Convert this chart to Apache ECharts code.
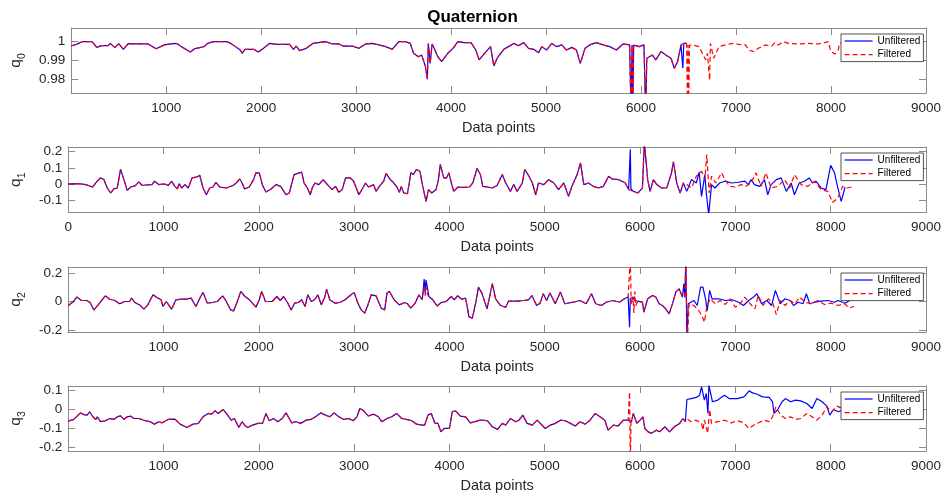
<!DOCTYPE html>
<html>
<head>
<meta charset="utf-8">
<title>Quaternion</title>
<script src="https://cdn.jsdelivr.net/npm/echarts@6/dist/echarts.min.js"></script>
<style>
  html, body { margin: 0; padding: 0; background: #fff; }
  #chart { width: 945px; height: 496px; }
</style>
</head>
<body>
<div id="chart"></div>
<script>
// ---- Data: [sample index, component value] ----

// q0
const q0Common = [
  [0,0.9975],[60,0.9985],[115,0.9998],[220,0.9998],[270,0.9968],[320,0.9977],[390,0.9977],[410,0.9989],
  [460,0.9967],[500,0.9988],[550,0.9958],[600,0.9988],[700,0.9986],[810,0.9986],[845,0.9975],[895,0.9961],
  [980,0.9981],[1090,0.9989],[1120,0.9986],[1160,0.9972],[1255,0.9944],[1300,0.9961],[1400,0.9972],[1435,0.9989],
  [1500,0.9998],[1640,0.9998],[1680,0.9989],[1730,0.9972],[1780,0.9954],[1800,0.9937],[1830,0.9958],[1920,0.9958],
  [1970,0.9944],[2025,0.9963],[2090,0.9989],[2160,0.9984],[2300,0.9984],[2340,0.9958],[2370,0.9975],[2405,0.9951],
  [2475,0.9963],[2545,0.9989],[2680,0.9998],[2750,0.9986],[2820,0.9986],[2860,0.9975],[2960,0.9975],[3030,0.9963],
  [3100,0.9986],[3170,0.9989],[3240,0.9981],[3310,0.9972],[3380,0.9958],[3450,0.9998],[3520,0.9998],[3570,0.9989],
  [3605,0.9937],[3655,0.9919],[3690,0.9928],[3730,0.9867],[3750,0.9800],[3760,0.9989],[3780,0.9884],[3800,0.9986],
  [3830,0.9954],[3860,0.9919],[3900,0.9893],[3965,0.9937],[4020,0.9963],[4070,0.9998],[4140,0.9993],[4210,0.9993],
  [4260,0.9954],[4295,0.9902],[4345,0.9933],[4415,0.9972],[4450,0.9870],[4485,0.9911],[4555,0.9958],[4605,0.9972],
  [4660,0.9989],[4710,0.9977],[4765,0.9993],[4815,0.9963],[4870,0.9958],[4920,0.9940],[4955,0.9972],[5005,0.9954],
  [5060,0.9989],[5110,0.9972],[5165,0.9981],[5215,0.9954],[5270,0.9968],[5320,0.9954],[5360,0.9884],[5410,0.9963],
  [5460,0.9981],[5530,0.9993],[5600,0.9981],[5670,0.9972],[5740,0.9954],[5810,0.9986],[5880,0.9981],[5895,0.96],
  [5905,0.998],[5912,0.96],[5922,0.998],[5930,0.9981],[5980,0.9972],[6030,0.9981],[6040,0.998],[6050,0.96],
  [6060,0.9911],[6120,0.9928],[6155,0.9902],[6210,0.9946],[6260,0.9928],[6315,0.9911],[6350,0.9858],[6385,0.9893],
  [6420,0.9981]
];
const q0UnfilteredTail = [[6440,0.9858],[6450,0.9989],[6475,0.999]];
const q0FilteredTail = [
  [6450,0.9989],[6480,0.999],[6490,0.96],[6495,0.998],[6500,0.96],[6510,0.998],[6540,0.9981],[6610,0.9972],
  [6645,0.9937],[6680,0.9902],[6700,0.9937],[6712,0.9849],[6722,0.9796],[6730,0.9989],[6765,0.9911],[6820,0.9972],
  [6890,0.9981],[6960,0.9989],[7030,0.9984],[7100,0.9981],[7135,0.9954],[7185,0.9946],[7235,0.9963],[7305,0.9981],
  [7375,0.9975],[7410,0.9993],[7445,0.9981],[7500,0.9998],[7550,0.9989],[7655,0.9986],[7760,0.9989],[7865,0.9986],
  [7935,0.9993],[7970,0.9998],[8000,0.9946],[8040,0.9933],[8075,0.9954],[8090,0.9989],[8150,0.9993],[8250,0.9995]
];

// q1
const q1PartA = [
  [0,0],[115,0.002],[185,-0.004],[255,-0.019],[305,0.017],[340,0.0375],[375,0.027],[410,-0.025],[445,-0.056],
  [480,-0.031],[515,-0.025],[550,0.09],[560,0.085],[585,0.027],[620,-0.04],[655,-0.019],[705,-0.01],[740,0.0125],
  [775,-0.008],[880,-0.004],[905,0.017],[950,-0.004],[1015,0],[1050,-0.01],[1085,0.017],[1120,-0.015],[1145,-0.031],
  [1165,0.002],[1190,-0.025],[1225,-0.004],[1260,-0.025],[1300,0.0375],[1345,0.042],[1380,0.054],[1415,-0.025],
  [1450,-0.067],[1485,-0.025],[1520,-0.019],[1550,0.0104],[1590,-0.019],[1660,-0.025],[1730,-0.01],[1765,0.006],
  [1800,0.031],[1825,0.006],[1850,-0.031],[1900,-0.019],[1945,0.027],[1970,0.069],[2005,0.069],[2040,-0.01],
  [2075,-0.05],[2130,-0.031],[2180,-0.004],[2230,-0.015],[2285,-0.067],[2320,-0.056],[2370,0.058],[2425,0.069],
  [2450,0.073],[2475,0.006],[2510,-0.025],[2540,-0.067],[2560,-0.025],[2590,0.006],[2630,-0.004],[2675,0.027],
  [2720,-0.004],[2770,-0.035],[2805,-0.015],[2840,-0.052],[2875,-0.035],[2910,0.0375],[2960,0.0375],[2995,0.017],
  [3050,-0.067],[3085,-0.031],[3120,0.006],[3150,-0.019],[3205,-0.004],[3230,-0.046],[3265,-0.015],[3310,0.017],
  [3335,0.065],[3380,0.027],[3410,0.0104],[3445,-0.015],[3475,-0.052],[3495,-0.015],[3520,-0.056],[3560,-0.06],
  [3595,0.069],[3620,0.058],[3655,0.09],[3690,0.079],[3720,-0.015],[3755,-0.108],[3780,-0.035],[3815,-0.056],
  [3860,-0.035],[3885,0.027],[3905,0.121],[3940,0.0375],[3970,0.0375],[3995,0.069],[4020,0.006],[4045,-0.046],
  [4090,-0.019],[4140,-0.021],[4210,-0.019],[4245,0.006],[4290,0.096],[4325,0.058],[4350,-0.015],[4395,-0.019],
  [4450,-0.025],[4500,-0.01],[4555,0.058],[4590,0.006],[4640,-0.046],[4675,-0.004],[4710,-0.046],[4765,0.006],
  [4790,0.09],[4835,0.048],[4870,0.006],[4905,-0.067],[4935,0.006],[4990,-0.004],[5040,0.027],[5095,0.006],
  [5145,-0.035],[5200,0.006],[5250,-0.077],[5285,-0.015],[5340,0.058],[5375,0.131],[5410,-0.004],[5460,0.006],
  [5510,-0.015],[5565,-0.025],[5615,-0.015],[5670,0.048],[5705,0.031],[5775,0.027],[5845,0.006],[5880,-0.035]
];
const q1SpikeUnfiltered = [[5898,0.215],[5904,-0.03]];
const q1PartB = [
  [5930,-0.046],[5980,-0.056],[6025,-0.025],[6045,0.26],[6055,0.26],[6080,0.027],[6105,-0.046],[6140,0.027],
  [6175,-0.004],[6225,-0.025],[6280,-0.025],[6330,0.069],[6350,0.1375],[6385,0.006],[6420,-0.056],[6455,0.006]
];
const q1UnfilteredTail = [
  [6490,-0.046],[6540,0.027],[6590,0.006],[6620,0.073],[6645,-0.077],[6680,0.058],[6695,-0.056],[6720,-0.19],
  [6750,-0.004],[6785,-0.025],[6835,0.006],[6890,0.017],[6960,0.006],[7030,0.0104],[7100,0.017],[7135,-0.004],
  [7165,0.027],[7200,-0.004],[7255,-0.015],[7305,0.027],[7340,-0.067],[7375,-0.004],[7430,0.027],[7480,0.0375],
  [7535,-0.046],[7585,0.006],[7620,-0.067],[7670,0.006],[7725,0.017],[7775,0.0375],[7810,0.006],[7845,0.017],
  [7900,-0.025],[7950,-0.035],[8000,0.115],[8040,0.069],[8075,-0.025],[8110,-0.108],[8135,-0.056],[8150,-0.02]
];
const q1FilteredTail = [
  [6490,-0.004],[6540,-0.025],[6590,0.048],[6645,0.079],[6680,0.027],[6700,0.183],[6725,-0.056],[6750,0.048],
  [6795,0.006],[6855,0.069],[6890,0.027],[6940,-0.015],[6995,-0.019],[7060,-0.004],[7110,-0.015],[7165,0.006],
  [7215,0.069],[7270,-0.015],[7320,0.069],[7375,-0.025],[7445,-0.015],[7515,0.027],[7570,-0.025],[7620,0.058],
  [7690,-0.004],[7760,-0.015],[7830,0.017],[7900,-0.035],[7970,-0.046],[8020,-0.115],[8075,-0.0875],[8125,-0.015],
  [8175,-0.025],[8245,-0.015]
];

// q2
const q2PartA = [
  [0,-0.03],[55,0],[90,0.031],[140,0.007],[195,0.007],[230,-0.007],[270,-0.059],[315,-0.024],[370,0.024],
  [390,0.04],[435,0.016],[490,0.007],[540,-0.016],[595,0],[645,0],[665,0.024],[700,-0.007],[750,-0.024],
  [795,-0.054],[835,-0.024],[890,0.047],[940,0.024],[975,0.012],[995,-0.035],[1030,0],[1085,-0.054],[1130,0.012],
  [1185,0.016],[1235,0.016],[1290,0.024],[1340,-0.035],[1390,0.035],[1415,0.064],[1460,-0.012],[1515,-0.007],
  [1565,0],[1620,0.04],[1650,0.012],[1705,-0.059],[1735,-0.066],[1775,0],[1810,0.071],[1855,0.035],[1895,0.016],
  [1950,-0.024],[1970,-0.04],[2005,0.012],[2030,0.071],[2070,0],[2140,0],[2190,0.035],[2225,0.007],[2260,0.035],
  [2305,-0.012],[2340,-0.059],[2375,-0.012],[2415,-0.007],[2450,0.012],[2485,-0.035],[2515,0.047],[2550,0],
  [2585,0.012],[2620,0.047],[2655,-0.024],[2695,0.035],[2710,0.087],[2745,0.012],[2800,-0.012],[2850,-0.007],
  [2905,0.012],[2955,0.04],[3000,0.064],[3040,-0.012],[3075,-0.059],[3110,-0.082],[3145,-0.024],[3180,0.047],
  [3230,0.04],[3285,-0.047],[3320,-0.059],[3345,0.059],[3370,0.071],[3420,0.012],[3475,-0.024],[3530,-0.007],
  [3560,-0.016],[3595,-0.047],[3640,-0.012],[3680,0.047],[3715,0.012]
];
const q2SpikeAUnfiltered = [[3735,0.158],[3745,0.06],[3755,0.15],[3770,0.14]];
const q2SpikeAFiltered = [[3735,0.106],[3745,0.04],[3755,0.1],[3770,0.05]];
const q2PartB = [
  [3785,0.035],[3820,0.016],[3870,-0.031],[3915,-0.007],[3965,0],[4020,0.035],[4050,0.012],[4085,0.04],
  [4130,0.016],[4170,0.024],[4205,-0.106],[4240,-0.118],[4275,-0.012],[4305,0.101],[4340,0.059],[4395,-0.052],
  [4450,0.125],[4485,0.019],[4535,-0.028],[4590,-0.04],[4620,0.002],[4710,0.002],[4780,0.007],[4830,0.012],
  [4865,0.042],[4915,-0.028],[4950,-0.012],[4985,0.054],[5020,0.007],[5055,0.059],[5110,-0.016],[5165,0.066],
  [5210,-0.016],[5300,-0.005],[5370,0.007],[5435,-0.016],[5490,0.054],[5535,-0.016],[5595,-0.028],[5645,-0.005],
  [5715,0.007],[5785,-0.005],[5835,0.019],[5875,0.031]
];
const q2SpikeBUnfiltered = [[5885,0.02],[5890,-0.181],[5897,0.02],[5925,0.031],[5945,0.007]];
const q2SpikeBFiltered = [[5885,0.02],[5897,0.3],[5903,0.3],[5908,-0.02],[5925,0.031],[5935,-0.08],[5945,0.07],[5955,-0.03]];
const q2PartC = [
  [5975,0.002],[6025,-0.005],[6040,-0.075],[6080,0.019],[6130,0.042],[6165,0.031],[6200,-0.016],[6235,-0.028],
  [6270,-0.052],[6305,-0.087],[6340,-0.016],[6375,0.066],[6410,0.089],[6445,0.031]
];
const q2UnfilteredTail = [
  [6460,0.125],[6470,0.03],[6480,0.3],[6492,-0.3],[6505,-0.016],[6565,0.007],[6600,-0.028],[6635,0.101],
  [6660,0.101],[6690,0.007],[6705,-0.064],[6730,0.078],[6755,0.019],[6825,0.019],[6895,0.007],[6965,0.012],
  [7035,-0.005],[7085,-0.028],[7140,0.007],[7190,0.031],[7225,0.054],[7275,-0.016],[7330,0.007],[7380,-0.028],
  [7420,0.078],[7470,-0.016],[7520,0.019],[7575,0.007],[7610,-0.028],[7660,-0.005],[7710,-0.016],[7745,0.054],
  [7780,-0.016],[7830,-0.005],[7900,0.002],[7970,0.007],[8040,-0.005],[8075,0.007],[8150,-0.012],[8200,0.007]
];
const q2FilteredTail = [
  [6470,0.03],[6482,0.3],[6494,-0.3],[6515,-0.016],[6565,-0.028],[6615,-0.064],[6650,-0.099],[6675,-0.146],
  [6700,-0.04],[6735,0.019],[6790,-0.016],[6840,0.007],[6895,-0.021],[6945,0.019],[7000,-0.04],[7050,-0.016],
  [7100,0.031],[7155,-0.016],[7205,-0.052],[7240,0.042],[7290,-0.028],[7345,0.019],[7395,-0.016],[7430,-0.092],
  [7470,0.007],[7520,-0.028],[7575,0.007],[7625,-0.016],[7675,0.031],[7730,-0.005],[7795,-0.016],[7865,0.007],
  [7935,-0.021],[8005,-0.012],[8075,-0.028],[8145,-0.016],[8195,-0.045],[8245,-0.035]
];

// q3
const q3PartA = [
  [0,-0.062],[60,-0.053],[95,-0.035],[130,-0.018],[165,-0.027],[200,-0.03],[225,-0.012],[260,-0.039],
  [290,-0.053],[305,-0.039],[340,-0.065],[390,-0.06],[435,-0.048],[480,-0.053],[515,-0.039],[550,-0.034],
  [585,-0.053],[620,-0.039],[655,-0.035],[690,-0.048],[740,-0.048],[810,-0.06],[860,-0.065],[905,-0.078],
  [950,-0.065],[985,-0.071],[1050,-0.053],[1120,-0.051],[1175,-0.078],[1245,-0.096],[1265,-0.101],[1310,-0.078],
  [1365,-0.074],[1415,-0.039],[1470,-0.021],[1505,-0.025],[1540,-0.007],[1575,-0.021],[1625,0],[1660,-0.021],
  [1710,-0.057],[1745,-0.048],[1790,-0.096],[1825,-0.065],[1860,-0.088],[1885,-0.096],[1935,-0.083],[1990,-0.074],
  [2040,-0.074],[2075,-0.021],[2110,-0.06],[2155,-0.048],[2200,-0.065],[2245,-0.048],[2285,-0.018],[2320,-0.048],
  [2345,-0.071],[2390,-0.065],[2440,-0.074],[2495,-0.057],[2545,-0.053],[2595,-0.039],[2650,-0.018],[2700,-0.03],
  [2745,-0.039],[2790,-0.018],[2840,-0.039],[2890,-0.053],[2945,-0.048],[2990,-0.06],[3030,-0.039],[3060,0.005],
  [3100,-0.007],[3150,-0.035],[3205,-0.025],[3255,-0.039],[3290,-0.065],[3345,-0.048],[3395,-0.039],[3445,-0.021],
  [3500,-0.048],[3550,-0.053],[3605,-0.06],[3655,-0.078],[3710,-0.083],[3740,-0.083],[3775,-0.03],[3810,-0.021],
  [3845,-0.071],[3880,-0.074],[3910,-0.119],[3945,-0.101],[4000,-0.101],[4030,-0.012],[4065,-0.007],[4115,-0.035],
  [4170,-0.039],[4220,-0.071],[4270,-0.065],[4320,-0.057],[4345,-0.057],[4400,-0.06],[4450,-0.092],[4505,-0.106],
  [4555,-0.074],[4590,-0.083],[4640,-0.048],[4695,-0.065],[4730,-0.057],[4770,-0.03],[4815,-0.074],[4870,-0.083],
  [4920,-0.057],[5005,-0.101],[5060,-0.083],[5110,-0.074],[5165,-0.057],[5215,-0.06],[5270,-0.074],[5320,-0.088],
  [5370,-0.065],[5425,-0.078],[5475,-0.057],[5530,-0.021],[5580,-0.039],[5630,-0.057],[5665,-0.11],[5720,-0.083],
  [5770,-0.088],[5825,-0.057],[5875,-0.057]
];
const q3SpikeFiltered = [[5890,0.094],[5898,-0.3],[5905,-0.065]];
const q3PartB = [
  [5910,-0.065],[5930,-0.021],[5965,-0.074],[6000,-0.057],[6030,-0.039],[6050,-0.101],[6085,-0.119],[6120,-0.127],
  [6170,-0.11],[6205,-0.119],[6260,-0.092],[6310,-0.119],[6360,-0.092],[6415,-0.074],[6450,-0.048],[6475,-0.065]
];
const q3UnfilteredTail = [
  [6488,-0.06],[6492,0.053],[6535,0.058],[6590,0.064],[6625,0.076],[6645,0.12],[6675,0.05],[6695,0.085],
  [6712,-0.021],[6722,0.13],[6735,0.12],[6760,0.041],[6815,0.05],[6885,0.076],[6935,0.058],[7020,0.058],
  [7090,0.067],[7145,0.099],[7180,0.088],[7230,0.081],[7285,0.067],[7355,0.064],[7390,0.041],[7405,-0.021],
  [7440,-0.004],[7490,0.041],[7525,0.058],[7580,0.041],[7630,0.05],[7685,0.046],[7750,0.032],[7805,0.005],
  [7855,0.058],[7910,0.041],[7960,0.018],[7990,-0.03],[8030,0],[8080,-0.012],[8115,-0.004],[8150,0.005]
];
const q3FilteredTail = [
  [6490,-0.048],[6535,-0.065],[6590,-0.057],[6645,-0.074],[6660,-0.11],[6675,-0.057],[6710,-0.127],[6730,0],
  [6750,-0.074],[6815,-0.065],[6885,-0.057],[6955,-0.071],[7020,-0.06],[7090,-0.071],[7140,-0.101],[7195,-0.083],
  [7245,-0.071],[7300,-0.057],[7355,-0.065],[7390,-0.039],[7425,0.014],[7475,-0.03],[7525,-0.048],[7580,-0.039],
  [7630,-0.053],[7685,-0.048],[7750,-0.021],[7805,-0.039],[7855,-0.057],[7910,-0.03],[7960,0.014],[8010,-0.012],
  [8065,0.018],[8100,0.01],[8170,0.02],[8250,0.015]
];

// Axis ranges and tick labels
const xTicks = [0, 1000, 2000, 3000, 4000, 5000, 6000, 7000, 8000, 9000];
const yTicks = [
  [0.98, 0.99, 1],
  [-0.1, 0, 0.1, 0.2],
  [-0.2, 0, 0.2],
  [-0.2, -0.1, 0, 0.1]
];
const yRanges = [[0.9728, 1.007], [-0.177, 0.229], [-0.214, 0.242], [-0.221, 0.125]];
const showZeroTick = [false, true, false, false];
const componentIndex = ['0', '1', '2', '3'];

// Series assembled from their pieces
const unfilteredData = [
  q0Common.concat(q0UnfilteredTail),
  q1PartA.concat(q1SpikeUnfiltered, q1PartB, q1UnfilteredTail),
  q2PartA.concat(q2SpikeAUnfiltered, q2PartB, q2SpikeBUnfiltered, q2PartC, q2UnfilteredTail),
  q3PartA.concat(q3PartB, q3UnfilteredTail)
];
const filteredData = [
  q0Common.concat(q0FilteredTail),
  q1PartA.concat(q1PartB, q1FilteredTail),
  q2PartA.concat(q2SpikeAFiltered, q2PartB, q2SpikeBFiltered, q2PartC, q2FilteredTail),
  q3PartA.concat(q3SpikeFiltered, q3PartB, q3FilteredTail)
];

// ---- Layout ----
const FONT = '"Liberation Sans", Arial, Helvetica, sans-serif';
const TEXT = '#262626';
const AXIS = '#8a8a8a';
const gridTops = [28, 147, 267, 386];
const gridHeights = [65, 65.5, 65, 65];
const GRID_LEFT = 63, GRID_WIDTH = 863;

const grids = [], xAxes = [], yAxes = [], series = [], legends = [];

gridTops.forEach((top, i) => {
  grids.push({ left: GRID_LEFT, top: top, width: GRID_WIDTH, height: gridHeights[i], containLabel: false });

  const tickStyle = { show: true, inside: true, length: 7, lineStyle: { color: AXIS, width: 1 } };
  const lineStyle = { show: true, onZero: false, lineStyle: { color: AXIS, width: 1 } };

  // bottom x axis with labels
  xAxes.push({
    type: 'value', gridIndex: i, position: 'bottom', min: 0, max: 9000,
    axisLine: lineStyle,
    axisTick: Object.assign({}, tickStyle, { customValues: xTicks }),
    axisLabel: {
      customValues: xTicks, margin: 8, color: TEXT, fontSize: 13.5, fontFamily: FONT,
      formatter: v => (v === 0 && !showZeroTick[i]) ? '' : String(v)
    },
    splitLine: { show: false },
    name: 'Data points', nameLocation: 'middle', nameGap: 27,
    nameTextStyle: { color: TEXT, fontSize: 14.5, fontFamily: FONT }
  });
  // top x axis, ticks only
  xAxes.push({
    type: 'value', gridIndex: i, position: 'top', min: 0, max: 9000,
    axisLine: lineStyle,
    axisTick: Object.assign({}, tickStyle, { customValues: xTicks }),
    axisLabel: { show: false }, splitLine: { show: false }
  });
  // left y axis with labels
  yAxes.push({
    type: 'value', gridIndex: i, position: 'left', min: yRanges[i][0], max: yRanges[i][1],
    axisLine: lineStyle,
    axisTick: Object.assign({}, tickStyle, { customValues: yTicks[i] }),
    axisLabel: {
      customValues: yTicks[i], margin: 6, color: TEXT, fontSize: 13.5, fontFamily: FONT,
      formatter: v => String(Math.round(v * 1000) / 1000)
    },
    splitLine: { show: false },
    name: '{q|q}{s|' + componentIndex[i] + '}', nameLocation: 'middle', nameRotate: 90, nameGap: 34,
    nameTextStyle: {
      rich: {
        q: { fontSize: 15.5, color: TEXT, fontFamily: FONT, verticalAlign: 'top', lineHeight: 20 },
        s: { fontSize: 10.5, color: TEXT, fontFamily: FONT, verticalAlign: 'bottom', lineHeight: 20 }
      }
    }
  });
  // right y axis, ticks only
  yAxes.push({
    type: 'value', gridIndex: i, position: 'right', min: yRanges[i][0], max: yRanges[i][1],
    axisLine: lineStyle,
    axisTick: Object.assign({}, tickStyle, { customValues: yTicks[i] }),
    axisLabel: { show: false }, splitLine: { show: false }
  });

  series.push({
    name: 'Unfiltered', type: 'line', xAxisIndex: 2 * i, yAxisIndex: 2 * i,
    data: unfilteredData[i], showSymbol: false, symbol: 'none', clip: true, z: 2,
    lineStyle: { color: '#0000ff', width: 1.2 }, itemStyle: { color: '#0000ff' }
  });
  series.push({
    name: 'Filtered', type: 'line', xAxisIndex: 2 * i, yAxisIndex: 2 * i,
    data: filteredData[i], showSymbol: false, symbol: 'none', clip: true, z: 3,
    lineStyle: { color: '#ff0000', width: 1.2, type: [5, 3] }, itemStyle: { color: '#ff0000' }
  });

  legends.push({
    data: ['Unfiltered', 'Filtered'], orient: 'vertical', left: 841, top: top + 6,
    itemWidth: 28, itemHeight: 10, itemGap: 3.6, itemTextGap: 3,
    padding: [2, 3, 2, 3], backgroundColor: '#ffffff', borderColor: '#262626', borderWidth: 0.8,
    itemStyle: { opacity: 0 },
    lineStyle: { width: 1.2 },
    textStyle: { fontSize: 10, color: '#000', fontFamily: FONT },
    selectedMode: false, z: 10
  });
});

const chart = echarts.init(document.getElementById('chart'), null, { renderer: 'canvas' });
chart.setOption({
  animation: false,
  backgroundColor: '#ffffff',
  textStyle: { fontFamily: FONT },
  title: {
    text: 'Quaternion', left: 'center', top: 4,
    textStyle: { fontSize: 17, fontWeight: 'bold', color: '#000', fontFamily: FONT }
  },
  grid: grids, xAxis: xAxes, yAxis: yAxes, legend: legends, series: series
});
</script>
</body>
</html>
